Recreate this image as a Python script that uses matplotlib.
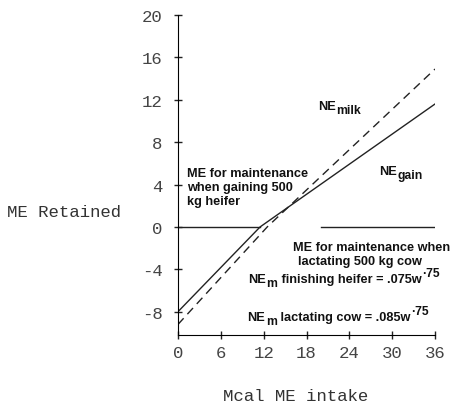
import matplotlib
matplotlib.use("Agg")
import matplotlib.pyplot as plt

# ME retained vs ME intake, growing heifer (gain) and lactating cow (milk)
intake_gain = [0, 11.5, 36]
retained_gain = [-8.0, 0.0, 11.6]
intake_milk = [0, 12.5, 36]
retained_milk = [-9.2, 0.0, 14.9]
zero_left = [0, 11.5]
zero_right = [20, 36]

x_ticks = [0, 6, 12, 18, 24, 30, 36]
y_ticks = [-8, -4, 0, 4, 8, 12, 16, 20]

plt.rcParams["axes.unicode_minus"] = False

fig = plt.figure(figsize=(4.52, 4.06), dpi=100)
ax = fig.add_axes([178 / 452, 1 - 336 / 406, (435 - 178) / 452, (336 - 16) / 406])

ax.plot(intake_gain, retained_gain, color="#222222", lw=1.0)
ax.plot(intake_milk, retained_milk, color="#222222", lw=1.0, dashes=(6, 4))
ax.plot(zero_left, [0, 0], color="#222222", lw=1.0)
ax.plot(zero_right, [0, 0], color="#222222", lw=1.0)

ax.set_xlim(0, 36)
ax.set_ylim(-10.2, 20)
ax.set_xticks(x_ticks)
ax.set_yticks(y_ticks)
for side in ("top", "right"):
    ax.spines[side].set_visible(False)
ax.tick_params(direction="inout", length=6, width=1.0, colors="#222222",
               labelcolor="#444444", labelsize=12.5)
ax.tick_params(axis="y", pad=8)
ax.tick_params(axis="x", pad=4)
for lab in ax.get_xticklabels() + ax.get_yticklabels():
    lab.set_family("Liberation Mono")

bold = dict(family="Liberation Sans", weight="bold", fontsize=9.2, color="#111111")
small = dict(bold, fontsize=8.7)


def chain(prev, s, dy, **kw):
    # append a piece of text right after another, shifted up/down in points
    return ax.annotate(s, xy=(1, 0.5), xycoords=prev, xytext=(0.5, dy),
                       textcoords="offset points", va="center", ha="left", **kw)


ax.text(1.2, 5.7, "ME for maintenance\nwhen gaining 500\nkg heifer",
        va="top", ha="left", linespacing=1.25, **bold)

t = ax.text(19.6, 11.4, "NE", va="center", ha="left", **bold)
chain(t, "milk", -3, **small)

t = ax.text(28.2, 5.3, "NE", va="center", ha="left", **bold)
chain(t, "gain", -3, **small)

ax.text(16.1, -1.9, "ME for maintenance when", va="center", ha="left", **bold)
ax.text(16.8, -3.2, "lactating 500 kg cow", va="center", ha="left", **bold)

t = ax.text(9.8, -4.9, "NE", va="center", ha="left", **bold)
t = chain(t, "m", -3, **small)
t = chain(t, " finishing heifer = .075w", 3, **bold)
chain(t, "\u00b775", 4, **small)

t = ax.text(9.7, -8.5, "NE", va="center", ha="left", **bold)
t = chain(t, "m", -3, **small)
t = chain(t, " lactating cow = .085w", 3, **bold)
chain(t, "\u00b775", 4, **small)

mono = dict(family="Liberation Mono", fontsize=12.5, color="#333333")
fig.text(7 / 452, 1 - 213 / 406, "ME Retained", ha="left", va="center", **mono)
fig.text(296 / 452, 1 - 397 / 406, "Mcal ME intake", ha="center", va="center", **mono)

fig.savefig("out.png", dpi=100)
